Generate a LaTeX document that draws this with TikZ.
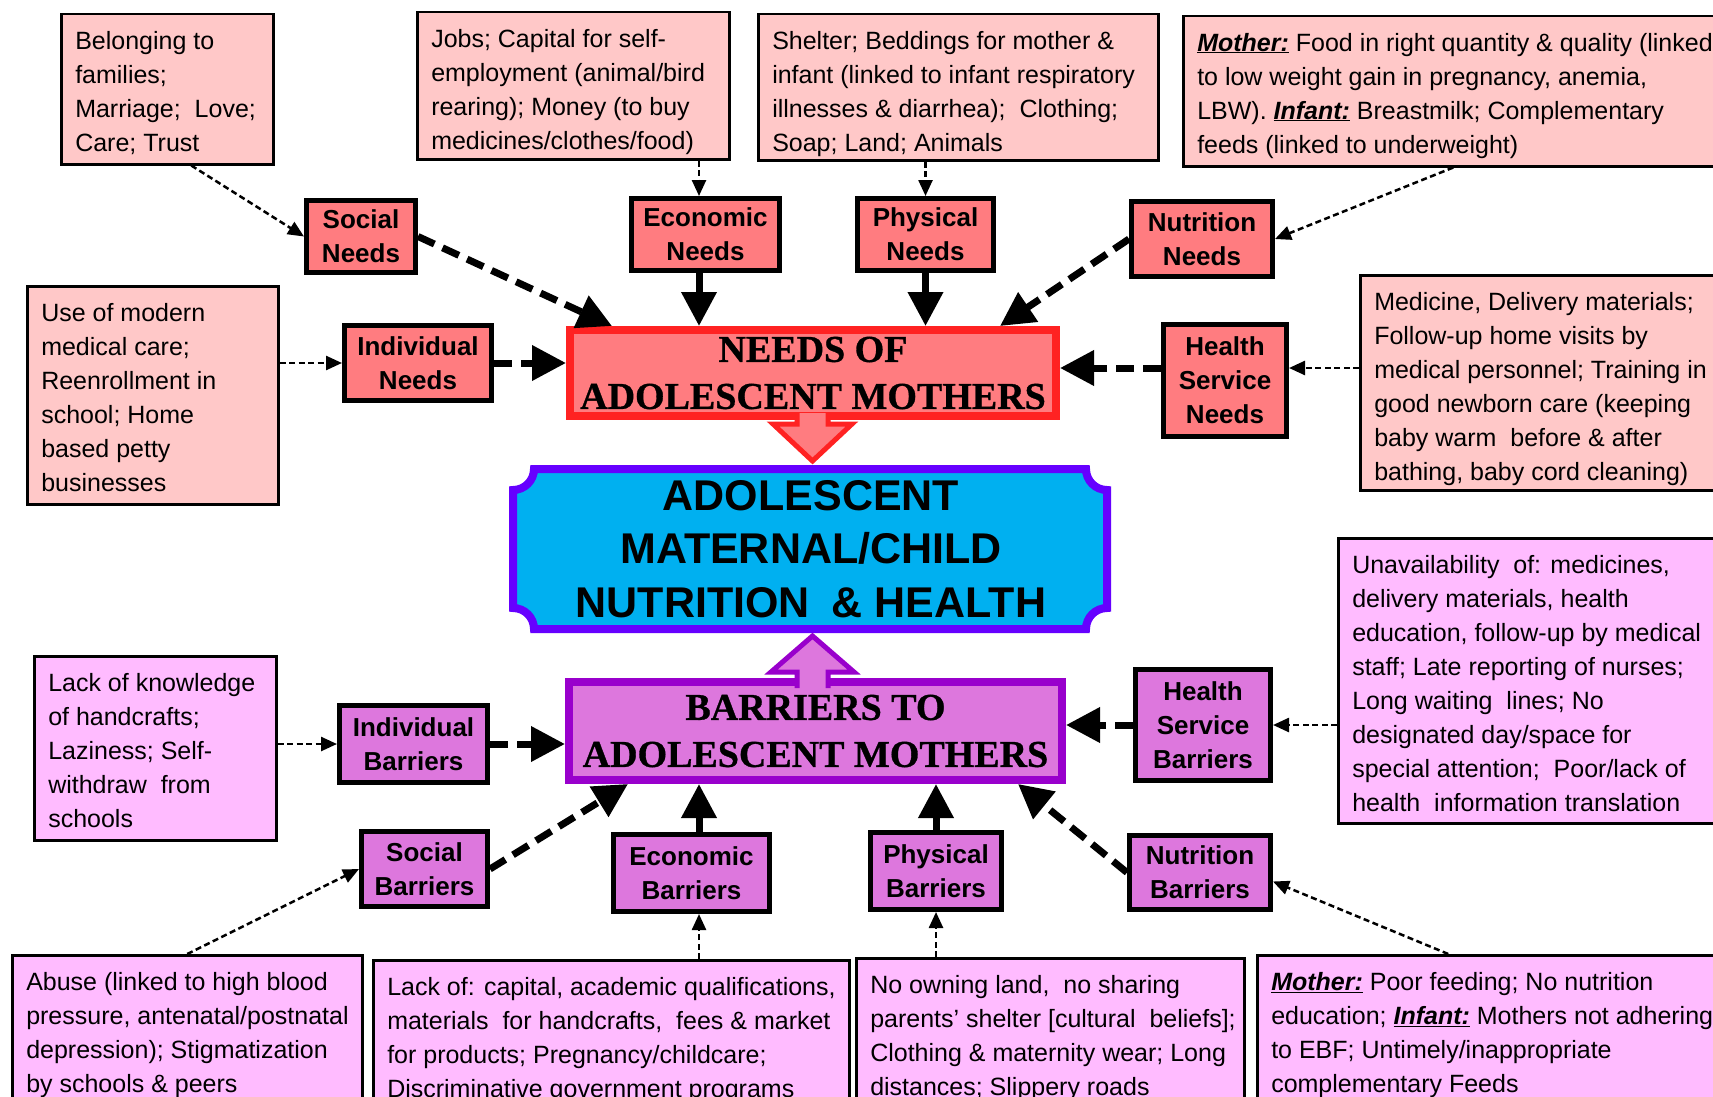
\documentclass[tikz,border=0pt]{standalone}
\usepackage{fontspec}
\setmainfont{Liberation Sans}
\newfontfamily\heavyserif{Liberation Serif}[FakeBold=0.8]
\usetikzlibrary{arrows.meta}
\definecolor{needLight}{HTML}{FFC8C8}
\definecolor{needCat}{HTML}{FF7C80}
\definecolor{needRed}{HTML}{FF2222}
\definecolor{barLight}{HTML}{FFBBFF}
\definecolor{barCat}{HTML}{DD77DD}
\definecolor{barBorder}{HTML}{9900CC}
\definecolor{ctrFill}{HTML}{00B0F0}
\definecolor{ctrBorder}{HTML}{6600FF}
\newcommand\tbx[3]{\parbox[t][#2][t]{#1}{\begin{tabular}[t]{@{}l@{}}#3\end{tabular}}}
\newcommand\lbl[1]{\underline{\textbf{\textit{#1}}}}
\tikzset{
 txtbox/.style={draw, line width=2.5pt, anchor=north west, inner xsep=14pt, inner ysep=11pt, font=\fontsize{25}{34}\selectfont},
 needtxt/.style={txtbox, fill=needLight},
 bartxt/.style={txtbox, fill=barLight},
 catbox/.style={draw, line width=5pt, align=center, inner sep=0pt, font=\bfseries\fontsize{26}{34}\selectfont},
 needcat/.style={catbox, fill=needCat},
 barcat/.style={catbox, fill=barCat},
 mainbox/.style={line width=8pt, align=center, inner sep=0pt, font=\heavyserif\bfseries\fontsize{38}{47}\selectfont},
 thinarrow/.style={line width=2.5pt, dash pattern=on 6pt off 3.5pt, -{Triangle[length=16pt,width=14pt]}},
 thickdash/.style={line width=7pt, dash pattern=on 18pt off 9pt, -{Triangle[length=34pt,width=34pt]}},
 thicksolid/.style={line width=7pt, -{Triangle[length=34pt,width=34pt]}},
}
\begin{document}
\begin{tikzpicture}[x=1pt,y=-1pt]
\useasboundingbox (0,0) rectangle (1713,1097);
\fill[white] (0,0) rectangle (1713,1097);
\clip (0,0) rectangle (1713,1097);

% ---------- text boxes (needs) ----------
\node[needtxt] (bSocN) at (60,13) {\tbx{184pt}{128pt}{Belonging to\\ families;\\ Marriage;\ \ Love;\\ Care; Trust}};
\node[needtxt] (bEcoN) at (416,11) {\tbx{284pt}{125pt}{Jobs; Capital for self-\\employment (animal/bird\\rearing); Money (to buy\\medicines/clothes/food)}};
\node[needtxt] (bPhyN) at (757,13) {\tbx{372pt}{124pt}{Shelter; Beddings for mother \&\\infant (linked to infant respiratory\\illnesses \& diarrhea);\ \ Clothing;\\Soap; Land; Animals}};
\node[needtxt] (bNutN) at (1182,15) {\tbx{520pt}{128pt}{\lbl{Mother:} Food in right quantity \& quality (linked\\to low weight gain in pregnancy, anemia,\\LBW). \lbl{Infant:} Breastmilk; Complementary\\feeds (linked to underweight)}};
\node[needtxt] (bIndN) at (26,285) {\tbx{223pt}{196pt}{Use of modern\\medical care;\\Reenrollment in\\school; Home\\based petty\\businesses}};
\node[needtxt] (bHSN) at (1359,274) {\tbx{343pt}{193pt}{Medicine, Delivery materials;\\Follow-up home visits by\\medical personnel; Training in\\good newborn care (keeping\\baby warm\ \ before \& after\\bathing, baby cord cleaning)}};

% ---------- text boxes (barriers) ----------
\node[bartxt] (bIndB) at (33,655) {\tbx{214pt}{162pt}{Lack of knowledge\\of handcrafts;\\Laziness; Self-\\withdraw\ \ from\\schools}};
\node[bartxt] (bHSB) at (1337,537) {\tbx{365pt}{263pt}{Unavailability\ \ of: medicines,\\delivery materials, health\\education, follow-up by medical\\staff; Late reporting of nurses;\\Long waiting\ \ lines; No\\designated day/space for\\special attention;\ \ Poor/lack of\\health\ \ information translation}};
\node[bartxt] (bSocB) at (11,954) {\tbx{322pt}{134pt}{Abuse (linked to high blood\\pressure, antenatal/postnatal\\depression); Stigmatization\\by schools \& peers}};
\node[bartxt] (bEcoB) at (372,959) {\tbx{448pt}{127pt}{Lack of: capital, academic qualifications,\\materials\ \ for handcrafts,\ \ fees \& market\\for products; Pregnancy/childcare;\\Discriminative government programs}};
\node[bartxt] (bPhyB) at (855,957) {\tbx{360pt}{131pt}{No owning land,\ \ no sharing\\parents’ shelter [cultural\ \ beliefs];\\Clothing \& maternity wear; Long\\distances; Slippery roads}};
\node[bartxt] (bNutB) at (1256,954) {\tbx{446pt}{134pt}{\lbl{Mother:} Poor feeding; No nutrition\\education; \lbl{Infant:} Mothers not adhering\\to EBF; Untimely/inappropriate\\complementary Feeds}};

% ---------- category boxes ----------
\node[needcat, minimum width=109pt, minimum height=72pt] (cSocN) at (361,236.5) {Social\\Needs};
\node[needcat, minimum width=148pt, minimum height=72pt] (cEcoN) at (705.5,234.5) {Economic\\Needs};
\node[needcat, minimum width=136pt, minimum height=72pt] (cPhyN) at (925.5,234.5) {Physical\\Needs};
\node[needcat, minimum width=141pt, minimum height=75pt] (cNutN) at (1202,239) {Nutrition\\Needs};
\node[needcat, minimum width=147pt, minimum height=75pt] (cIndN) at (418,363) {Individual\\Needs};
\node[needcat, minimum width=123pt, minimum height=112pt] (cHSN) at (1225,380.5) {Health\\Service\\Needs};

\node[barcat, minimum width=148pt, minimum height=77pt] (cIndB) at (413.5,744) {Individual\\Barriers};
\node[barcat, minimum width=126pt, minimum height=75pt] (cSocB) at (424.5,869) {Social\\Barriers};
\node[barcat, minimum width=156pt, minimum height=77pt] (cEcoB) at (691.5,873) {Economic\\Barriers};
\node[barcat, minimum width=131pt, minimum height=77pt] (cPhyB) at (936,871) {Physical\\Barriers};
\node[barcat, minimum width=141pt, minimum height=74pt] (cNutB) at (1200,872.5) {Nutrition\\Barriers};
\node[barcat, minimum width=135pt, minimum height=111pt] (cHSB) at (1203,725) {Health\\Service\\Barriers};

% ---------- main boxes ----------
\node[mainbox, draw=needRed, fill=needCat, minimum width=486pt, minimum height=86pt] (mainN) at (813,373) {NEEDS OF\\ADOLESCENT MOTHERS};
\node[mainbox, draw=barBorder, fill=barCat, minimum width=493pt, minimum height=98pt] (mainB) at (815.5,731) {BARRIERS TO\\ADOLESCENT MOTHERS};

% ---------- central plaque ----------
\draw[line width=8pt, draw=ctrBorder, fill=ctrFill]
 (513,490) .. controls (524.6,490) and (534,480.6) .. (534,469) -- (1086,469)
 .. controls (1086,480.6) and (1095.4,490) .. (1107,490) -- (1107,608)
 .. controls (1095.4,608) and (1086,617.4) .. (1086,629) -- (534,629)
 .. controls (534,617.4) and (524.6,608) .. (513,608) -- cycle;
\node[font=\bfseries\fontsize{43}{53.5}\selectfont, align=center, inner sep=0pt] (central) at (811,549) {ADOLESCENT\\MATERNAL/CHILD\\NUTRITION\hspace{22pt}\& HEALTH};

% ---------- block arrows ----------
\fill[needCat] (797,413) -- (797,424) -- (773,424) -- (812.5,461) -- (852,424) -- (828,424) -- (828,413) -- cycle;
\draw[needRed, line width=5pt] (797,413) -- (797,424) -- (773,424) -- (812.5,461) -- (852,424) -- (828,424) -- (828,413);
\fill[barCat] (797,688) -- (797,672) -- (771,672) -- (812.5,636) -- (854,672) -- (828,672) -- (828,688) -- cycle;
\draw[barBorder, line width=5pt] (797,688) -- (797,672) -- (771,672) -- (812.5,636) -- (854,672) -- (828,672) -- (828,688);

% ---------- helper coordinates ----------
\coordinate (ecoX) at (699,0);
\coordinate (hsnY) at (0,368);

% ---------- connectors: needs ----------
\draw[thickdash] (cSocN.east) -- ([xshift=46pt]mainN.north west);
\draw[thicksolid] (ecoX |- cEcoN.south) -- (ecoX |- mainN.north);
\draw[thicksolid] (cPhyN.south) -- (cPhyN.south |- mainN.north);
\draw[thickdash] (cNutN.west) -- ([xshift=-60pt]mainN.north east);
\draw[thickdash] (cIndN.east) -- (cIndN.east -| mainN.west);
\draw[thickdash] (cHSN.west |- hsnY) -- (mainN.east |- hsnY);

\draw[thinarrow] ([xshift=24pt]bSocN.south) -- (cSocN.west);
\draw[thinarrow] (ecoX |- bEcoN.south) -- (ecoX |- cEcoN.north);
\draw[thinarrow] (cPhyN.north |- bPhyN.south) -- (cPhyN.north);
\draw[thinarrow] ([xshift=-4pt]bNutN.south) -- (cNutN.east);
\draw[thinarrow] (bIndN.east |- cIndN.west) -- (cIndN.west);
\draw[thinarrow] (bHSN.west |- hsnY) -- (cHSN.east |- hsnY);

% ---------- connectors: barriers ----------
\draw[thickdash] (cIndB.east) -- (cIndB.east -| mainB.west);
\draw[thickdash] (cSocB.east) -- ([xshift=63pt]mainB.south west);
\draw[thicksolid] (ecoX |- cEcoB.north) -- (ecoX |- mainB.south);
\draw[thicksolid] (cPhyB.north) -- (cPhyB.north |- mainB.south);
\draw[thickdash] (cNutB.west) -- ([xshift=-48pt]mainB.south east);
\draw[thickdash] (cHSB.west) -- (cHSB.west -| mainB.east);

\draw[thinarrow] (bIndB.east |- cIndB.west) -- (cIndB.west);
\draw[thinarrow] (bSocB.north) -- (cSocB.west);
\draw[thinarrow] (ecoX |- bEcoB.north) -- (ecoX |- cEcoB.south);
\draw[thinarrow] (cPhyB.south |- bPhyB.north) -- (cPhyB.south);
\draw[thinarrow] ([xshift=-46pt]bNutB.north) -- ([yshift=-9pt]cNutB.east);
\draw[thinarrow] (bHSB.west |- cHSB.east) -- (cHSB.east);
\end{tikzpicture}
\end{document}
